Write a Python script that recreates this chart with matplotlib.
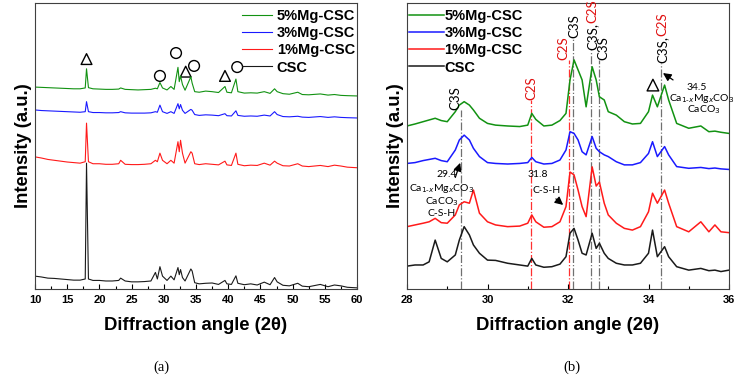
import matplotlib
matplotlib.use('Agg')
import matplotlib.pyplot as plt

# ---- panel (a): full scan, 10-60 deg ----
x_a = [10, 11, 12, 13, 14, 15, 16, 17, 17.8, 18.0, 18.3, 19, 20, 21, 22, 23, 23.3, 24, 25, 26,
       27, 28, 28.7, 29.0, 29.4, 29.8, 30.5, 31.1, 31.6, 32.2, 32.4, 32.6, 32.9, 33.3, 34.2,
       34.4, 34.8, 35.5, 36.5, 37.5, 38.5, 39.5, 39.8, 40.5, 41.2, 41.5, 42.5, 43.5, 44.5,
       45.6, 46.5, 47.2, 47.6, 48.5, 49.5, 50.8, 51.5, 52.5, 54.3, 55.5, 56.5, 57.5, 58.5, 60]
csc_a = [4.5, 4.2, 3.8, 3.7, 3.5, 3.3, 3.1, 3.1, 3.5, 44, 3.5, 3.0, 3.0, 2.8, 2.8, 3.0, 3.8, 2.8,
         2.5, 2.5, 2.6, 2.8, 5.8, 3.5, 7.8, 4.5, 3.0, 4.5, 3.2, 7.5, 5.0, 6.8, 4.0, 2.8, 7.0,
         6.3, 2.2, 1.8, 2.0, 2.1, 1.6, 3.0, 1.8, 1.6, 4.6, 2.0, 1.5, 1.8, 1.4, 2.4, 1.5, 4.0,
         2.5, 1.3, 1.1, 2.0, 1.0, 0.8, 1.6, 0.8, 1.4, 1.1, 0.6, 0.4]
mg1_a = [46.2, 45.8, 45.3, 45.0, 44.7, 44.4, 44.2, 44.0, 44.5, 58, 44.5, 43.8, 43.8, 43.6, 43.6,
         43.8, 45.0, 43.6, 43.5, 43.5, 43.6, 43.8, 45.0, 44.5, 47.5, 45.0, 43.8, 45.0, 44.0,
         51.5, 48.0, 52.0, 47.5, 44.0, 48.0, 47.5, 43.8, 43.5, 43.8, 43.6, 43.4, 44.7, 43.4,
         43.2, 47.5, 43.6, 43.1, 43.3, 43.2, 44.0, 43.3, 44.7, 44.0, 43.1, 43.0, 43.8, 43.0,
         42.8, 43.2, 42.8, 43.3, 43.0, 42.6, 42.4]
mg3_a = [62.6, 62.4, 62.3, 62.2, 62.1, 62.0, 61.9, 61.8, 62.0, 65.5, 62.0, 61.7, 61.7, 61.6, 61.6,
         61.7, 62.0, 61.6, 61.5, 61.5, 61.5, 61.6, 62.0, 61.8, 64.3, 62.0, 61.4, 62.0, 61.4,
         64.8, 63.0, 64.5, 62.5, 61.4, 62.8, 62.5, 61.0, 60.7, 60.9, 60.8, 60.6, 61.3, 60.6,
         60.5, 62.3, 60.7, 60.4, 60.5, 60.4, 60.8, 60.5, 62.0, 61.0, 60.3, 60.2, 60.4, 60.1,
         60.0, 60.3, 60.0, 60.2, 60.0, 59.9, 59.8]
mg5_a = [70.6, 70.5, 70.4, 70.3, 70.2, 70.1, 70.0, 70.0, 70.3, 77.0, 70.4, 70.0, 69.9, 69.8, 69.8,
         69.9, 70.3, 69.8, 69.7, 69.6, 69.7, 69.8, 70.2, 70.0, 72.2, 70.3, 69.6, 70.8, 69.8,
         77.5, 72.5, 74.5, 71.5, 69.5, 74.2, 72.0, 69.0, 68.8, 69.2, 69.0, 68.7, 70.8, 68.8,
         68.6, 73.4, 69.0, 68.5, 68.6, 68.5, 69.0, 68.4, 70.0, 69.0, 68.3, 68.1, 68.8, 68.0,
         67.9, 68.2, 67.8, 68.0, 67.7, 67.6, 67.5]
tri_x = [18.0, 33.4, 39.5]
tri_y = [80.4, 76.0, 74.5]
circ_x = [29.4, 31.9, 34.7, 41.4]
circ_y = [74.5, 82.5, 78.0, 77.6]

# ---- panel (b): zoom 28-36 deg ----
x_b = [28.0, 28.2, 28.4, 28.55, 28.7, 28.85, 29.0, 29.2, 29.3, 29.42, 29.55, 29.65, 29.8, 30.0,
       30.2, 30.5, 30.8, 31.0, 31.1, 31.2, 31.4, 31.6, 31.8, 31.95, 32.05, 32.15, 32.25, 32.35,
       32.45, 32.6, 32.7, 32.78, 32.9, 33.0, 33.2, 33.4, 33.6, 33.8, 34.0, 34.1, 34.22, 34.4,
       34.5, 34.7, 35.0, 35.3, 35.5, 35.65, 35.8, 36.0]
mg5_b = [57.0, 57.7, 58.5, 59.1, 59.7, 58.9, 58.5, 62.0, 64.3, 65.5, 64.3, 62.6, 59.7, 57.9, 57.3,
         57.0, 56.8, 57.3, 61.4, 59.3, 57.0, 57.3, 58.9, 61.4, 73.1, 80.1, 76.6, 73.1, 63.7, 77.7,
         73.1, 67.2, 66.1, 62.0, 60.8, 58.5, 57.7, 57.9, 62.0, 67.8, 63.7, 71.3, 66.1, 57.9,
         56.2, 57.0, 55.0, 55.2, 54.8, 54.4]
mg3_b = [43.9, 44.2, 44.9, 45.3, 45.7, 44.9, 44.5, 48.6, 52.1, 53.8, 52.1, 49.2, 46.3, 44.2, 43.9,
         43.7, 43.9, 44.2, 46.0, 44.5, 43.7, 43.9, 45.1, 48.6, 55.0, 54.4, 52.1, 48.0, 46.9, 53.3,
         49.2, 48.0, 46.9, 46.3, 44.5, 43.4, 43.4, 44.2, 47.4, 51.5, 46.3, 49.8, 46.9, 42.8,
         42.2, 42.5, 42.1, 42.3, 42.0, 41.8]
mg1_b = [21.8, 22.4, 23.0, 23.5, 24.7, 23.2, 23.0, 25.9, 29.4, 30.5, 30.0, 34.6, 26.5, 23.5, 22.4,
         21.8, 22.0, 23.0, 25.9, 23.5, 21.6, 21.8, 23.5, 28.8, 40.9, 39.9, 34.6, 28.8, 25.3, 42.7,
         36.0, 37.4, 30.0, 25.9, 23.0, 21.2, 20.6, 21.8, 27.0, 33.5, 30.0, 34.6, 30.0, 21.8,
         20.0, 23.5, 20.0, 22.4, 20.0, 19.7]
csc_b = [8.0, 8.4, 8.4, 9.5, 17.1, 10.7, 9.5, 11.9, 17.1, 21.8, 18.9, 15.4, 12.5, 10.1, 10.0,
         9.0, 8.4, 8.0, 10.7, 8.4, 7.6, 7.8, 8.7, 11.3, 19.5, 21.2, 17.1, 12.5, 11.9, 19.5,
         14.2, 16.0, 12.5, 10.7, 9.0, 8.4, 8.4, 9.0, 12.5, 20.6, 11.3, 14.8, 11.3, 7.8,
         6.6, 7.2, 6.4, 6.6, 6.1, 6.6]

# phase reference lines: position, top, colour, label text, label x
ref_x = [29.35, 31.07, 32.03, 32.13, 32.58, 32.78, 34.31]
ref_top = [62.6, 66.1, 80.0, 87.8, 83.6, 80.0, 79.0]
ref_col = ['gray', 'red', 'red', 'gray', 'gray', 'gray', 'gray']
ref_lbl = ['C3S', 'C2S', 'C2S', 'C3S', 'C3S,C2S', 'C3S', 'C3S,C2S']
ref_lbl_x = [29.2, 31.1, 31.88, 32.17, 32.6, 32.89, 34.34]

labels = ['5%Mg-CSC', '3%Mg-CSC', '1%Mg-CSC', 'CSC']
colors = ['#129212', '#1a1aff', '#ff1a1a', '#1a1a1a']

plt.rcParams['font.family'] = ['Liberation Sans', 'DejaVu Sans']
fig = plt.figure(figsize=(7.4, 3.81), dpi=100)
ax1 = fig.add_axes([35 / 740, 1 - 289 / 381, 322 / 740, 286 / 381])
ax2 = fig.add_axes([407 / 740, 1 - 289 / 381, 322 / 740, 286 / 381])

for ys, c, lab in zip([mg5_a, mg3_a, mg1_a, csc_a], colors, labels):
    ax1.plot(x_a, ys, color=c, lw=0.8, label=lab)
ax1.scatter(tri_x, tri_y, marker='^', s=60, facecolors='none', edgecolors='black', linewidths=1)
ax1.scatter(circ_x, circ_y, marker='o', s=60, facecolors='none', edgecolors='black', linewidths=1)

for ys, c, lab in zip([mg5_b, mg3_b, mg1_b, csc_b], colors, labels):
    ax2.plot(x_b, ys, color=c, lw=1.1, label=lab)

lab_font = dict(family='Lato', fontsize=9.5, rotation=90, ha='center', va='bottom')
for x, top, c, txt, lx in zip(ref_x, ref_top, ref_col, ref_lbl, ref_lbl_x):
    ax2.plot([x, x], [0, top], color='#ff3030' if c == 'red' else '#707070',
             ls='-.', lw=0.9, zorder=0.5)
    if txt == 'C3S':
        ax2.text(lx, top, 'C3S', color='black', **lab_font)
    elif txt == 'C2S':
        ax2.text(lx, top, 'C2S', color='#e01010', **lab_font)
    else:
        t = ax2.text(lx, top, 'C3S,', color='black', **lab_font)
        ax2.annotate('C2S', xy=(0.5, 1), xycoords=t, color='#e01010', **lab_font)

ax2.scatter([34.11], [71.3], marker='^', s=70, facecolors='none', edgecolors='black', linewidths=1)

ann = dict(family='Lato', fontsize=7.5, ha='center', va='center')
ax2.text(35.2, 70.6, '34.5', **ann)
ax2.text(35.33, 66.6, 'Ca$_{1\\text{-}x}$Mg$_x$CO$_3$', **ann)
ax2.text(35.38, 62.6, 'CaCO$_3$', **ann)
ax2.text(28.98, 39.9, '29.4', **ann)
ax2.text(28.85, 35.3, 'Ca$_{1\\text{-}x}$Mg$_x$CO$_3$', **ann)
ax2.text(28.87, 30.6, 'CaCO$_3$', **ann)
ax2.text(28.87, 26.4, 'C-S-H', **ann)
ax2.text(31.25, 39.9, '31.8', **ann)
ax2.text(31.48, 34.6, 'C-S-H', **ann)
arrow = dict(arrowstyle='-|>', color='black', lw=0.9, mutation_scale=12, shrinkA=0, shrinkB=0)
ax2.annotate('', xy=(34.36, 75.5), xytext=(34.61, 73.1), arrowprops=arrow)
ax2.annotate('', xy=(29.32, 44.1), xytext=(29.2, 39.0), arrowprops=arrow)
ax2.annotate('', xy=(31.88, 29.4), xytext=(31.7, 31.5), arrowprops=arrow)

for ax, lim, major, minor in [(ax1, (10, 60), 5, 2.5), (ax2, (28, 36), 2, 1)]:
    ax.set_xlim(*lim)
    ax.set_ylim(0, 100)
    ax.set_xticks([v for v in range(lim[0], lim[1] + 1, major)])
    ax.set_xticks([lim[0] + minor * k for k in range(int((lim[1] - lim[0]) / minor) + 1)], minor=True)
    ax.set_yticks([])
    ax.tick_params(axis='x', which='major', direction='in', length=3.5, width=0.8, pad=4,
                   labelsize=8)
    ax.tick_params(axis='x', which='minor', direction='in', length=2.5, width=0.8)
    for lbl in ax.get_xticklabels():
        lbl.set_fontweight('bold')
    for s in ax.spines.values():
        s.set_linewidth(0.8)
        s.set_color('#404040')
    ax.set_xlabel('Diffraction angle (2\u03b8)', fontsize=13.3, fontweight='bold', labelpad=9)
    ax.set_ylabel('Intensity (a.u.)', fontsize=13.3, fontweight='bold', labelpad=2)

ax1.legend(loc='upper right', bbox_to_anchor=(1.035, 1.025), frameon=False, handlelength=2.1,
           handletextpad=0.3, labelspacing=0.22, prop=dict(weight='bold', size=10.5))
ax2.legend(loc='upper left', bbox_to_anchor=(-0.035, 1.025), frameon=False, handlelength=2.4,
           handletextpad=0.05, labelspacing=0.22, prop=dict(weight='bold', size=10.5))

fig.text(161 / 740, 1 - 367 / 381, '(a)', family='Liberation Serif', fontsize=10.5,
         ha='center', va='center')
fig.text(572 / 740, 1 - 367 / 381, '(b)', family='Liberation Serif', fontsize=10.5,
         ha='center', va='center')

fig.savefig('out.png', dpi=100)
